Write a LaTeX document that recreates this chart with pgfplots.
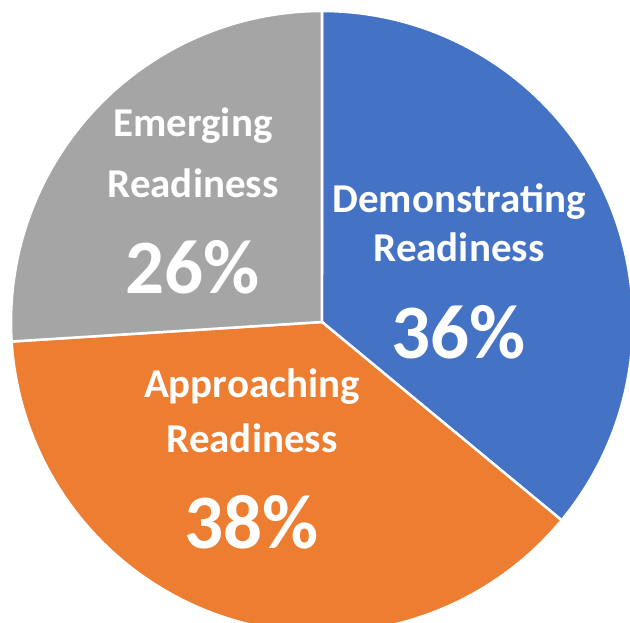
\documentclass[border=0pt]{standalone}
\usepackage{pgfplots}
\pgfplotsset{compat=1.18}
\usepackage{fontspec}
\setmainfont{Carlito}
\definecolor{cblue}{HTML}{4472C4}
\definecolor{corange}{HTML}{ED7D31}
\definecolor{cgray}{HTML}{A5A5A5}
% slice values (percent), clockwise from 12 o'clock
\def\vDemo{36}
\def\vAppr{38}
\def\vEmer{26}
\pgfmathsetmacro{\aA}{90}
\pgfmathsetmacro{\aB}{\aA-3.6*\vDemo}
\pgfmathsetmacro{\aC}{\aB-3.6*\vAppr}
\pgfmathsetmacro{\aD}{\aC-3.6*\vEmer}
\newcommand{\lab}{\fontsize{41}{49}\selectfont\bfseries}
\newcommand{\pct}{\fontsize{77}{90}\selectfont\bfseries}
\begin{document}
\begin{tikzpicture}
\begin{axis}[
  scale only axis,
  width=630pt, height=623pt,
  xmin=-1.0354, xmax=0.9904,
  ymin=-0.9678, ymax=1.0354,
  hide axis,
  clip=true,
]
\addplot[fill=cblue, draw=white, line width=2.5pt, domain=\aB:\aA, samples=120, variable=\t]
  ({cos(\t)},{sin(\t)}) -- (axis cs:0,0) -- cycle;
\addplot[fill=corange, draw=white, line width=2.5pt, domain=\aC:\aB, samples=120, variable=\t]
  ({cos(\t)},{sin(\t)}) -- (axis cs:0,0) -- cycle;
\addplot[fill=cgray, draw=white, line width=2.5pt, domain=\aD:\aC, samples=120, variable=\t]
  ({cos(\t)},{sin(\t)}) -- (axis cs:0,0) -- cycle;

\node[text=white, anchor=base] at (axis cs:0.4405,0.3505) {\lab Demonstrating};
\node[text=white, anchor=base] at (axis cs:0.4405,0.193) {\lab Readiness};
\node[text=white, anchor=base] at (axis cs:0.4405,-0.1158) {\pct \vDemo\%};

\node[text=white, anchor=base] at (axis cs:-0.4148,0.5949) {\lab Emerging};
\node[text=white, anchor=base] at (axis cs:-0.4148,0.4019) {\lab Readiness};
\node[text=white, anchor=base] at (axis cs:-0.4148,0.0932) {\pct \vEmer\%};

\node[text=white, anchor=base] at (axis cs:-0.2251,-0.2412) {\lab Approaching};
\node[text=white, anchor=base] at (axis cs:-0.2251,-0.418) {\lab Readiness};
\node[text=white, anchor=base] at (axis cs:-0.2251,-0.7267) {\pct \vAppr\%};
\end{axis}
\pgfresetboundingbox
\useasboundingbox (current axis.south west) rectangle (current axis.north east);
\end{tikzpicture}
\end{document}
